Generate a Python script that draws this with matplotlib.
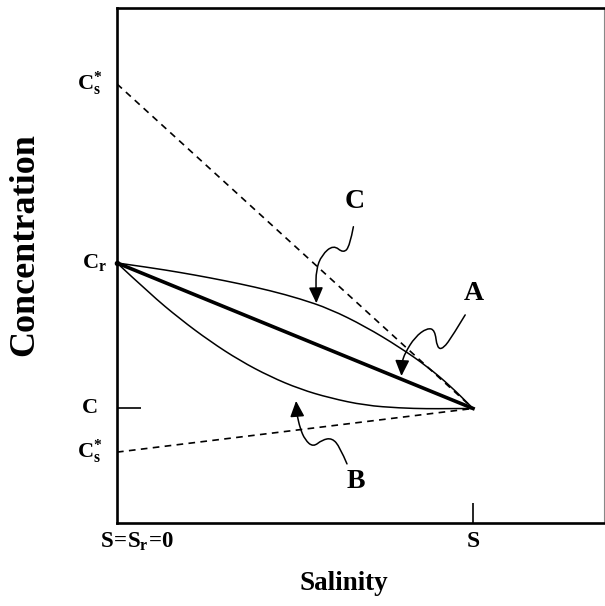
import matplotlib
matplotlib.use('Agg')
import matplotlib.pyplot as plt
from matplotlib.path import Path
from matplotlib.patches import PathPatch

plt.rcParams['font.family'] = 'Liberation Serif'
plt.rcParams['font.weight'] = 'bold'
plt.rcParams['mathtext.fontset'] = 'custom'
plt.rcParams['mathtext.rm'] = 'Liberation Serif:bold'
plt.rcParams['mathtext.it'] = 'Liberation Serif:bold'
plt.rcParams['mathtext.bf'] = 'Liberation Serif:bold'
plt.rcParams['mathtext.default'] = 'rm'

# salinity (0 = river, 1 = S) and concentration (C = 1, Cr = 2)
x_pts = [0, 0.093, 0.177, 0.261, 0.345, 0.430, 0.514, 0.598, 0.697, 0.795, 0.871, 0.935, 1.0]
curve_c = [2.0, 1.968, 1.935, 1.898, 1.857, 1.810, 1.754, 1.684, 1.564, 1.419, 1.289, 1.158, 1.0]
curve_b = [2.0, 1.787, 1.615, 1.462, 1.329, 1.219, 1.133, 1.072, 1.021, 1.003, 0.998, 0.999, 1.0]
line_a_x = [0, 1.0]
line_a_y = [2.0, 1.0]

cs_upper = 3.23
cs_lower = 0.70
c_r = 2.0
c_end = 1.0
s_end = 1.0

# wavy pointer arrows (data coords), last point is the arrow tip
arrow_c_x = [0.664, 0.654, 0.636, 0.608, 0.575, 0.559, 0.559, 0.560]
arrow_c_y = [2.249, 2.117, 2.067, 2.124, 2.055, 1.952, 1.814, 1.723]
arrow_a_x = [0.978, 0.944, 0.916, 0.899, 0.893, 0.871, 0.837, 0.809, 0.801, 0.799]
arrow_a_y = [1.643, 1.505, 1.409, 1.416, 1.540, 1.553, 1.491, 1.381, 1.320, 1.223]
arrow_b_x = [0.646, 0.626, 0.604, 0.576, 0.551, 0.528, 0.514, 0.506, 0.503]
arrow_b_y = [0.619, 0.735, 0.797, 0.784, 0.735, 0.784, 0.866, 0.955, 1.052]


def smooth_path(xs, ys):
    # quadratic curve through the midpoints of the read points
    verts = [(xs[0], ys[0])]
    codes = [Path.MOVETO]
    for i in range(1, len(xs) - 1):
        verts.append((xs[i], ys[i]))
        verts.append(((xs[i] + xs[i + 1]) / 2, (ys[i] + ys[i + 1]) / 2))
        codes += [Path.CURVE3, Path.CURVE3]
    verts.append((xs[-1], ys[-1]))
    codes.append(Path.LINETO)
    return Path(verts, codes)


def draw_curve(ax, xs, ys, lw):
    ax.add_patch(PathPatch(smooth_path(xs, ys), facecolor='none',
                           edgecolor='black', lw=lw, capstyle='round'))


fig = plt.figure(figsize=(6.05, 6.06), dpi=100)
ax = fig.add_axes([0.1934, 0.137, 0.805, 0.850])

draw_curve(ax, x_pts, curve_c, 1.1)
draw_curve(ax, x_pts, curve_b, 1.1)
ax.plot(line_a_x, line_a_y, color='black', lw=2.6)
ax.plot([0, s_end], [cs_upper, c_end], color='black', lw=1.2, ls=(0, (4, 3.2)))
ax.plot([0, s_end], [cs_lower, c_end], color='black', lw=1.2, ls=(0, (4, 3.2)))
ax.plot([0], [c_r], marker='o', ms=3, color='black', clip_on=False)

for xs, ys in [(arrow_c_x, arrow_c_y), (arrow_a_x, arrow_a_y), (arrow_b_x, arrow_b_y)]:
    draw_curve(ax, xs[:-1], ys[:-1], 1.1)
    ax.annotate('', xy=(xs[-1], ys[-1]), xytext=(xs[-2], ys[-2]),
                arrowprops=dict(arrowstyle='-|>,head_length=0.8,head_width=0.36',
                                color='black', lw=1.1,
                                mutation_scale=12, shrinkA=0, shrinkB=0))

ax.text(0.667, 2.42, 'C', fontsize=20, ha='center', va='center')
ax.text(1.003, 1.79, 'A', fontsize=20, ha='center', va='center')
ax.text(0.671, 0.495, 'B', fontsize=20, ha='center', va='center')

ax.set_xlim(0, 1.368)
ax.set_ylim(0.213, 3.753)

ax.set_xticks([s_end])
ax.set_xticklabels([''])
ax.set_yticks([c_end])
ax.set_yticklabels([''])
ax.tick_params(axis='x', direction='in', length=14.4, width=1.2)
ax.tick_params(axis='y', direction='in', length=17.3, width=1.2)

trans = ax.get_yaxis_transform()
ax.text(-0.082, cs_upper, r'$C^{*}_{s}$', transform=trans, ha='left', va='center', fontsize=16)
ax.text(-0.072, c_r, r'$C_{r}$', transform=trans, ha='left', va='center', fontsize=16)
ax.text(-0.072, c_end, 'C', transform=trans, ha='left', va='center', fontsize=16)
ax.text(-0.082, cs_lower, r'$C^{*}_{s}$', transform=trans, ha='left', va='center', fontsize=16)

xtrans = ax.get_xaxis_transform()
ax.text(-0.047, -0.036, r'$S\!=\!S_{r}\!=\!0$', transform=xtrans, ha='left', va='center', fontsize=16.5)
ax.text(s_end, -0.036, 'S', transform=xtrans, ha='center', va='center', fontsize=17)

ax.set_xlabel('Salinity', fontsize=19.5, fontweight='bold', va='center')
ax.xaxis.set_label_coords(0.466, -0.117)
ax.set_ylabel('Concentration', fontsize=26, fontweight='bold', va='center')
ax.yaxis.set_label_coords(-0.189, 0.54)

for side in ['left', 'bottom', 'top']:
    ax.spines[side].set_linewidth(1.9)
ax.spines['right'].set_linewidth(0.8)
ax.spines['right'].set_color('#888888')

fig.savefig('out.png', dpi=100)
